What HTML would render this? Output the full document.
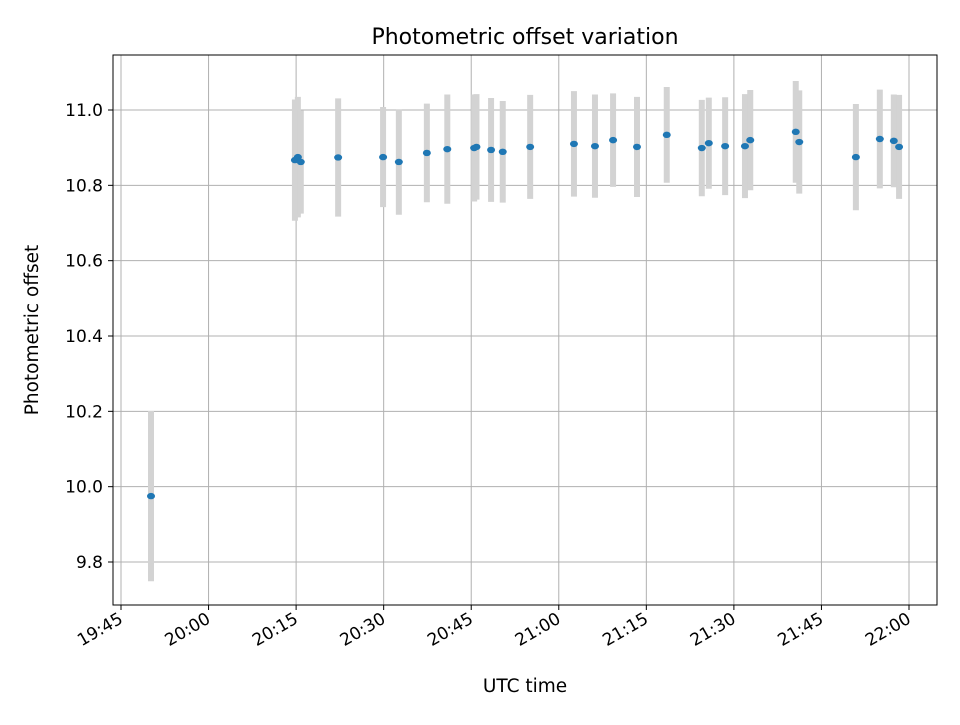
<!DOCTYPE html>
<html><head><meta charset="utf-8"><style>
body{margin:0;background:#fff}
svg text{font-family:"DejaVu Sans","Liberation Sans",sans-serif;fill:#000}
</style></head><body>
<svg id="chart" width="960" height="720" xmlns="http://www.w3.org/2000/svg">
<rect width="960" height="720" fill="#fff"/>
<g id="grid"></g>
<g id="bars"></g>
<g id="pts"></g>
<rect x="113" y="55" width="824" height="550" fill="none" stroke="#000" stroke-width="1"/>
<g id="axes"></g>
<text x="525" y="44" text-anchor="middle" font-size="22">Photometric offset variation</text>
<text x="525" y="692" text-anchor="middle" font-size="18.5">UTC time</text>
<text transform="translate(38,330) rotate(-90)" text-anchor="middle" font-size="18.5">Photometric offset</text>
</svg>
<script>
// minutes after 19:45
const times=[5.14,29.8,30.3,30.8,37.2,44.9,47.6,52.4,55.9,60.5,60.9,63.4,65.4,70.1,77.6,81.2,84.3,88.4,93.5,99.5,100.7,103.5,106.9,107.8,115.6,116.2,125.9,130.0,132.4,133.3];
const values=[9.975,10.867,10.875,10.862,10.874,10.875,10.862,10.886,10.896,10.899,10.902,10.894,10.889,10.902,10.910,10.904,10.920,10.902,10.934,10.899,10.912,10.904,10.904,10.920,10.942,10.915,10.875,10.923,10.918,10.902];
const errors=[0.226,0.161,0.160,0.137,0.157,0.133,0.140,0.131,0.145,0.142,0.140,0.138,0.135,0.138,0.140,0.137,0.124,0.133,0.127,0.128,0.121,0.130,0.138,0.133,0.135,0.137,0.141,0.131,0.123,0.138];
const xTicks=[0,15,30,45,60,75,90,105,120,135];
const xTickLabels=["19:45","20:00","20:15","20:30","20:45","21:00","21:15","21:30","21:45","22:00"];
const yTicks=[9.8,10.0,10.2,10.4,10.6,10.8,11.0];
const yTickLabels=["9.8","10.0","10.2","10.4","10.6","10.8","11.0"];

const X=t=>121+t*(788/135);
const Y=v=>110+(11-v)*376.67;
const NS="http://www.w3.org/2000/svg";
function mk(tag,attrs,parent){const e=document.createElementNS(NS,tag);for(const k in attrs)e.setAttribute(k,attrs[k]);parent.appendChild(e);return e;}
const grid=document.getElementById('grid'),axes=document.getElementById('axes'),bars=document.getElementById('bars'),pts=document.getElementById('pts');
xTicks.forEach((t,i)=>{
  const x=X(t);
  const g=mk('line',{x1:x,x2:x,y1:55,y2:605,stroke:'#b0b0b0','stroke-width':1},grid);
  
  
  const tk=mk('line',{x1:x,x2:x,y1:605,y2:610,stroke:'#000'},axes);
  
  
  const lb=mk('text',{x:x+3,y:622,'text-anchor':'end','font-size':'17',transform:`rotate(-30 ${x+3} 622)`},axes);
  lb.textContent=xTickLabels[i];
  
  
});
yTicks.forEach((v,i)=>{
  const y=Y(v);
  const g=mk('line',{x1:113,x2:937,y1:y,y2:y,stroke:'#b0b0b0','stroke-width':1},grid);
  
  
  const tk=mk('line',{x1:108,x2:113,y1:y,y2:y,stroke:'#000'},axes);
  
  
  const lb=mk('text',{x:103,y:y+6,'text-anchor':'end','font-size':'17'},axes);
  lb.textContent=yTickLabels[i];
  
  
});
times.forEach((t,i)=>{
  const x=X(t);
  const b=mk('line',{x1:x,x2:x,y1:Y(values[i]+errors[i]),y2:Y(values[i]-errors[i]),stroke:'#d3d3d3','stroke-width':6},bars);
  
  
});
times.forEach((t,i)=>{
  const p=mk('ellipse',{cx:X(t),cy:Y(values[i]),rx:4,ry:3.2,fill:'#1f77b4'},pts);
  
  
});
</script>
</body></html>
